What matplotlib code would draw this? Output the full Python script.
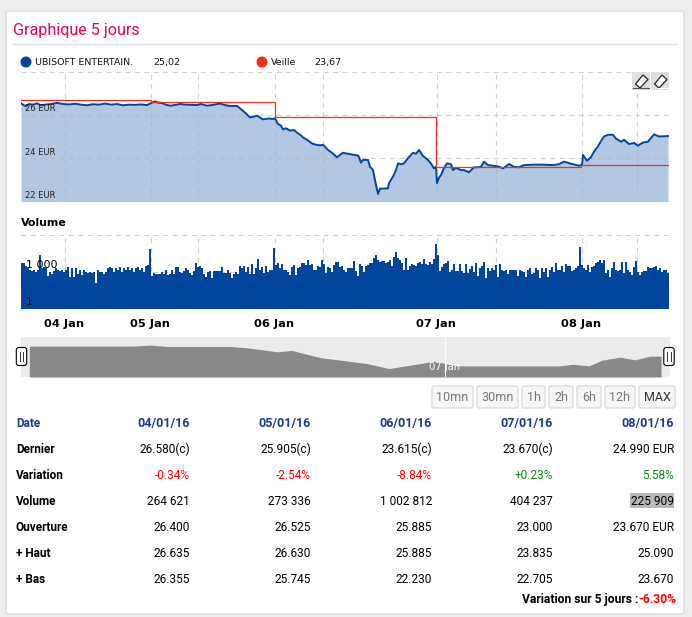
import matplotlib
matplotlib.use('Agg')
import matplotlib.pyplot as plt
import numpy as np
from matplotlib.patches import Rectangle, FancyBboxPatch, Circle, Polygon

# price, position along the 5 sessions (0 - 648)
price_pos = [0, 3, 5, 8, 12, 16, 20, 24, 30, 36, 42, 48, 54, 60, 66, 72, 78, 84, 90, 96, 102, 108, 114, 120, 126,
             131, 134, 138, 140, 146, 150, 156, 159, 165, 176, 180, 186, 192, 199, 205, 209, 216, 222, 229, 233, 236,
             242, 248, 252, 254, 257, 260, 262, 265, 269, 273, 276, 280, 282, 286, 291, 295, 299, 302, 307, 311, 316, 319, 322,
             325, 337, 338, 340, 342, 347, 349, 352, 355, 357, 359, 362, 367, 368, 372, 375, 377, 380, 383, 387, 392, 395, 398,
             402, 407, 410, 413, 415, 416, 418, 420, 423, 426, 430, 432, 435, 440, 443, 448, 453, 457, 460, 463, 467, 472, 477,
             482, 488, 493, 498, 503, 512, 522, 532, 538, 543, 552, 558, 561, 562, 566, 570, 573, 577, 580, 583, 587, 592,
             595, 600, 603, 608, 613, 617, 622, 627, 633, 638, 647]
price_vals = [26.53, 26.44, 26.40, 26.50, 26.47, 26.53, 26.44, 26.47, 26.50, 26.55, 26.50, 26.48, 26.51, 26.47, 26.44, 26.49, 26.47,
              26.52, 26.47, 26.50, 26.44, 26.47, 26.46, 26.48, 26.45,
              26.56, 26.62, 26.55, 26.56, 26.45, 26.42, 26.47, 26.50, 26.47, 26.45, 26.50, 26.42, 26.46, 26.52, 26.44, 26.41, 26.41,
              26.19, 25.88, 25.92, 25.96,
              25.79, 25.83, 25.81, 25.84, 25.58, 25.50, 25.33, 25.38, 25.27, 25.30, 25.18, 25.05, 24.96, 24.85, 24.68, 24.62, 24.59,
              24.62, 24.38, 24.25, 24.04, 24.15, 24.25,
              24.22, 24.12, 24.05, 23.79, 23.92, 23.92, 23.60, 23.45, 22.76, 22.35, 22.60, 22.59, 22.61, 22.85, 23.15, 23.45, 23.76,
              23.72, 23.76, 24.00, 24.25, 24.20, 24.38,
              24.10, 23.92, 23.75, 23.53, 23.60, 22.84, 23.10, 23.22, 23.55, 23.76, 23.72, 23.45, 23.55, 23.45, 23.45, 23.35, 23.58,
              23.58, 23.60, 23.84, 23.68, 23.65, 23.62,
              23.53, 23.73, 23.60, 23.58, 23.68, 23.70, 23.70, 23.68, 23.72, 23.84, 23.72, 23.65, 23.70, 24.15, 23.88, 24.05, 24.30,
              24.55, 24.79, 25.00, 25.08, 25.08,
              24.90, 24.76, 24.85, 24.65, 24.70, 24.58, 24.72, 24.76, 25.10, 25.00, 25.02]

veille_pos = [0, 129.5, 129.5, 253.5, 253.5, 414.5, 414.5, 560, 560, 648]
veille_vals = [26.67, 26.67, 26.58, 26.58, 25.905, 25.905, 23.615, 23.615, 23.67, 23.67]

volume = [4800, 4800, 2900, 1900, 1400, 1200, 1400, 1000, 1400, 23000, 1900, 2600, 1900, 450, 1000, 700, 1200, 1900, 1400, 1200,
          1400, 1000, 1500, 2300, 350, 1900, 400, 1900, 700, 1400, 550, 1500, 1000, 850, 1000, 850, 1000, 120, 1400, 1000,
          1000, 700, 1000, 1900, 2300, 1900, 1000, 1900, 1400, 2300, 1000, 1900, 1500, 2600, 1400, 1900, 1000, 1900, 2600, 1400,
          1900, 1000, 2900, 3500, 70000,
          450, 850, 700, 700, 700, 1000, 700, 1500, 550, 630, 1500, 700, 2300, 2300, 950, 800, 1200, 1900, 1400, 850,
          550, 1200, 4800, 2600, 2900, 1900, 700, 350, 1000, 1150, 300, 1200, 1200, 1200, 1200, 2600, 850, 850, 1400, 800,
          300, 700, 1000, 700, 2900, 1900, 2900, 1000, 2300, 700, 4200, 630, 1900, 10000, 1500, 2600, 800, 2900, 950, 1500,
          1400, 80000, 3500, 4800,
          1900, 4200, 1500, 1400, 1000, 550, 2300, 3500, 550, 1900, 2300, 4800, 4800, 3500, 9000, 3500, 4200, 1400, 1500, 2900,
          2300, 9000, 4200, 800, 2300, 1900, 1000, 3500, 6600, 6600, 2600, 2900, 1500, 1000, 1900, 1900, 1900, 7000, 1200, 450,
          4200, 2900, 1000, 2900, 3500, 4800, 4800, 12000, 23000, 9000, 6600, 7800, 7800, 5400, 6600, 9000, 2900, 16000, 40000, 12000,
          9000, 4800, 1400, 12000, 1400,
          2900, 4200, 3500, 2900, 5400, 6600, 4200, 10000, 4200, 3500, 6200, 4200, 10000, 170000, 23000, 1200, 2600, 4200, 4800, 7000,
          1000, 1400, 4200, 1200, 1200, 4200, 1200, 800, 4200, 800, 1800, 2900, 950, 4800, 450, 1900, 2900, 6200, 300, 1900,
          1200, 1900, 1500, 3500, 400, 4200, 1500, 1200, 1400, 700, 1500, 1400, 1400, 1400, 450, 1400, 1200, 1000, 400, 1500,
          1900, 700, 800, 1900, 1500,
          300, 1900, 1000, 1900, 350, 1400, 2300, 1000, 4800, 1400, 1500, 2900, 1000, 4200, 2900, 2900, 1200, 1400, 1900, 2900,
          107000, 3500, 1900, 1500, 3500, 1000, 2600, 2900, 5400, 6600, 9000, 4800, 9000, 800, 1400, 400, 1900, 6200, 1500, 1200,
          1500, 6200, 800, 6200, 1400, 1000, 550, 2300, 7500, 1000, 550, 1000, 1200, 1200, 2300, 1900, 1900, 2300, 2900, 1400,
          1900, 1000, 1500, 1400, 850]
volume_pos = np.arange(len(volume)) * 2 + 1

nav_pos = [8.3, 112, 130, 146, 209, 226, 256, 271, 299, 325, 346, 368, 414, 436, 456, 539, 552, 568, 581, 599, 614, 629, 640]
nav_vals = [26.51, 26.51, 26.66, 26.46, 26.46, 26.26, 25.68, 25.87, 24.84, 24.35, 23.96, 23.23, 24.30, 23.62, 23.62, 23.62, 23.86,
            23.62, 24.45, 24.89, 24.50, 25.04, 25.04]

grid_pos = [43.5, 129.5, 176.5, 253.5, 302, 415.5, 474.5, 560.5, 615.5]
date_labels = ['04 Jan', '05 Jan', '', '06 Jan', '', '07 Jan', '', '08 Jan', '']
price_ticks = [22, 24, 26, 28]

table_rows = ['Date', 'Dernier', 'Variation', 'Volume', 'Ouverture', '+ Haut', '+ Bas']
table_dates = ['04/01/16', '05/01/16', '06/01/16', '07/01/16', '08/01/16']
dernier = ['26.580(c)', '25.905(c)', '23.615(c)', '23.670(c)', '24.990 EUR']
variation = ['-0.34%', '-2.54%', '-8.84%', '+0.23%', '5.58%']
volumes_txt = ['264 621', '273 336', '1 002 812', '404 237', '225 909']
ouverture = ['26.400', '26.525', '25.885', '23.000', '23.670 EUR']
haut = ['26.635', '26.630', '25.885', '23.835', '25.090']
bas = ['26.355', '25.745', '22.230', '22.705', '23.670']
buttons = ['10mn', '30mn', '1h', '2h', '6h', '12h', 'MAX']

W, H = 692, 617
BLUE = '#00469c'
RED = '#f0301f'
GRID = '#cccccc'


def px_axes(fig, x0, y0, x1, y1, **kw):
    # axes from pixel box of the picture, y going down
    return fig.add_axes([x0 / W, 1 - y1 / H, (x1 - x0) / W, (y1 - y0) / H], **kw)


fig = plt.figure(figsize=(6.92, 6.17), dpi=100, facecolor='#eeeeee')
plt.rcParams['font.family'] = ['Roboto', 'DejaVu Sans']

# page background, card, title
bg = fig.add_axes([0, 0, 1, 1], zorder=0)
bg.set_xlim(0, W)
bg.set_ylim(H, 0)
bg.axis('off')
bg.add_patch(FancyBboxPatch((6, 11), 678, 603, boxstyle='round,pad=0,rounding_size=2', fc='white', ec='#dcdcdc', lw=1))
bg.text(13, 30, 'Graphique 5 jours', color='#e6005c', fontsize=11.6, family='Roboto', va='center')
bg.plot([13, 677], [43.5, 43.5], color='#dddddd', lw=1)

# legend
bg.add_patch(Circle((26, 62), 4.8, color=BLUE))
bg.add_patch(Circle((262, 62), 4.8, color=RED))
leg_font = dict(family='DejaVu Sans', fontsize=6.8, va='center', color='#111111')
bg.text(35, 62.5, 'UBISOFT ENTERTAIN.', **leg_font)
bg.text(153, 62.5, '25,02', **leg_font)
bg.text(271, 62.5, 'Veille', **leg_font)
bg.text(314, 62.5, '23,67', **leg_font)

# price chart
ax = px_axes(fig, 21, 71.5, 669, 201.5, zorder=1, facecolor='none')
ax.fill_between(price_pos, price_vals, 22, color='#b2c7e1', lw=0, zorder=1)
ax.set_axisbelow(False)
ax.plot(price_pos, price_vals, color=BLUE, lw=1.4, zorder=4)
ax.plot(veille_pos, veille_vals, color=RED, lw=0.9, zorder=5)
ax.set_xlim(0, 648)
ax.set_ylim(22, 28)
ax.set_xticks(grid_pos)
ax.set_yticks(price_ticks)
ax.tick_params(length=0, labelbottom=False, labelleft=False)
ax.grid(True, color='#aeb4bc', alpha=0.6, ls=(0, (4.5, 4)), lw=0.8, zorder=2)
for s in ax.spines.values():
    s.set_visible(False)
for t in price_ticks[:-1]:
    ax.text(4, t + 0.28, '%d EUR' % t, family='DejaVu Sans', fontsize=6, va='center', color='#222222', zorder=6)

# volume chart
vol = px_axes(fig, 21, 234.5, 669.5, 309, zorder=1, facecolor='none')
vol.bar(volume_pos, volume, width=2, bottom=1, color=BLUE, lw=0, zorder=3)
vol.set_yscale('log')
vol.set_xlim(0, 648.5)
vol.set_ylim(1, 1e6)
vol.set_xticks(grid_pos)
vol.set_xticklabels(date_labels, family='DejaVu Sans', fontsize=8.2, fontweight='bold', color='black')
vol.set_yticks([1e3, 1e6])
vol.minorticks_off()
vol.tick_params(length=0, labelleft=False, pad=7)
vol.grid(True, color=GRID, ls=(0, (4.5, 4)), lw=0.8, zorder=1)
vol.set_axisbelow(True)
for s in vol.spines.values():
    s.set_visible(False)
vol.text(5, 3500, '1 000', family='DejaVu Sans', fontsize=8, va='center', color='black', zorder=6)
vol.text(5, 3.7, '1', family='DejaVu Sans', fontsize=8, va='center', color='black', zorder=6)
bg.text(21, 223, 'Volume', family='DejaVu Sans', fontsize=7.9, fontweight='bold', va='center', color='black')

# navigator
nav = px_axes(fig, 21, 337, 670, 377, zorder=1, facecolor='#ebebeb')
nav.fill_between(nav_pos, nav_vals, 22, color='#888888', lw=0)
nav.set_xlim(0, 649)
nav.set_ylim(22, 27.84)
nav.set_xticks([])
nav.set_yticks([])
nav.axvline(424, color='white', lw=0.7)
nav.text(424, 23.4, '07 Jan', color='white', family='DejaVu Sans', fontsize=7.2, ha='center', va='center')
for s in nav.spines.values():
    s.set_visible(False)

# overlay: handles, pencil buttons
top = fig.add_axes([0, 0, 1, 1], zorder=3, facecolor='none')
top.set_xlim(0, W)
top.set_ylim(H, 0)
top.axis('off')
for hx in (21.5, 669):
    top.add_patch(FancyBboxPatch((hx - 5.2, 347.5), 10.4, 18, boxstyle='round,pad=0,rounding_size=2.5', fc='white', ec='black', lw=0.8))
    top.plot([hx - 1.6, hx - 1.6], [352, 361], color='#333333', lw=0.7)
    top.plot([hx + 1.6, hx + 1.6], [352, 361], color='#333333', lw=0.7)
for bx in (632, 651):
    top.add_patch(Rectangle((bx, 72), 18, 18, fc='#dedede', ec='none'))
    top.add_patch(Polygon([[bx + 3.5, 84], [bx + 11, 75], [bx + 16, 79.5], [bx + 8, 88]], fc='white', ec='#222222', lw=0.9))
top.plot([633, 649], [87.5, 87.5], color='#555555', lw=0.8)
top.plot([658, 668], [87.5, 87.5], color='white', lw=0.8)

# zoom buttons
btn_x = [(432, 473), (477, 518), (522, 545), (549, 573), (577, 601), (605, 635), (639, 675)]
for (x0, x1), lab in zip(btn_x, buttons):
    bg.add_patch(FancyBboxPatch((x0, 386), x1 - x0, 22, boxstyle='round,pad=0,rounding_size=2', fc='#f6f6f6', ec='#d8d8d8', lw=0.9))
    bg.text((x0 + x1) / 2, 397.5, lab, family='Roboto', fontsize=9, ha='center', va='center',
            color='#333333' if lab == 'MAX' else '#777777')

# table
col_right = [190, 311, 432, 553, 674]
row_y = [423.5, 449.5, 475.5, 501.5, 527.5, 553.5, 579.5]
for y, lab in zip(row_y, table_rows):
    bg.text(16, y, lab, family='Roboto', fontsize=8.5, fontweight='bold', va='center',
            color='#1c3a8a' if lab == 'Date' else 'black')
bg.add_patch(Rectangle((630, 492.5), 44, 15.5, fc='#b8b8b8', ec='none'))
for c, xr in enumerate(col_right):
    bg.text(xr, row_y[0], table_dates[c], family='Roboto', fontsize=9, fontweight='bold', ha='right', va='center', color='#1c3a8a')
    bg.text(xr, row_y[1], dernier[c], family='Roboto', fontsize=8.6, ha='right', va='center', color='black')
    var_col = '#ff0000' if variation[c].startswith('-') else '#0b8a12'
    bg.text(xr, row_y[2], variation[c], family='Roboto', fontsize=8.6, ha='right', va='center', color=var_col)
    bg.text(xr, row_y[3], volumes_txt[c], family='Roboto', fontsize=8.6, ha='right', va='center', color='black')
    bg.text(xr, row_y[4], ouverture[c], family='Roboto', fontsize=8.6, ha='right', va='center', color='black')
    bg.text(xr, row_y[5], haut[c], family='Roboto', fontsize=8.6, ha='right', va='center', color='black')
    bg.text(xr, row_y[6], bas[c], family='Roboto', fontsize=8.6, ha='right', va='center', color='black')
bg.text(638, 599.5, 'Variation sur 5 jours :', family='Roboto', fontsize=8.7, fontweight='bold', ha='right', va='center', color='black')
bg.text(676, 599.5, '-6.30%', family='Roboto', fontsize=8.7, fontweight='bold', ha='right', va='center', color='#ff0000')

fig.savefig('out.png', dpi=100, facecolor=fig.get_facecolor())
